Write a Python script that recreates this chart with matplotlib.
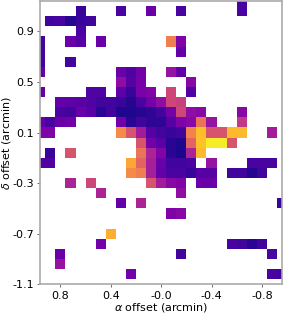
import numpy as np
import matplotlib
matplotlib.use("Agg")
import matplotlib.pyplot as plt

# Binned offsets (arcmin) and normalised intensity per occupied cell
alpha_off = [
    # delta = 1.14
    -0.64,
    # delta = 1.06
    0.64, 0.32, 0.08, -0.16, -0.64,
    # delta = 0.98
    0.88, 0.80, 0.72, 0.64, 0.56,
    # delta = 0.90
    0.64,
    # delta = 0.82
    0.96, 0.72, 0.64, 0.48, -0.08, -0.16,
    # delta = 0.74
    0.96, -0.16,
    # delta = 0.66
    0.96, 0.72,
    # delta = 0.58
    0.96, 0.32, 0.24, 0.16, -0.08, -0.16,
    # delta = 0.50
    0.32, 0.24, 0.16, -0.24,
    # delta = 0.42
    0.96, 0.56, 0.48, 0.32, 0.24, 0.16, 0.08, -0.08, -0.24,
    # delta = 0.34
    0.80, 0.72, 0.64, 0.56, 0.48, 0.40, 0.32, 0.24, 0.16, 0.08, 0.00, -0.08, -0.16,
    # delta = 0.26
    0.80, 0.72, 0.64, 0.56, 0.48, 0.40, 0.32, 0.24, 0.16, 0.08, 0.00, -0.08, -0.16, -0.24, -0.32, -0.64,
    # delta = 0.18
    0.96, 0.88, 0.80, 0.72, 0.32, 0.24, 0.16, 0.08, 0.00, -0.08, -0.16, -0.24, -0.32, -0.40, -0.64,
    # delta = 0.10
    0.96, 0.88, 0.32, 0.24, 0.16, 0.08, 0.00, -0.08, -0.16, -0.24, -0.32, -0.40, -0.48, -0.56, -0.64, -0.88,
    # delta = 0.02
    0.16, 0.08, 0.00, -0.08, -0.16, -0.24, -0.32, -0.40, -0.48, -0.56,
    # delta = -0.06
    0.88, 0.72, 0.16, 0.08, 0.00, -0.08, -0.16, -0.24, -0.32,
    # delta = -0.14
    0.96, 0.88, 0.24, 0.16, 0.08, 0.00, -0.08, -0.16, -0.24, -0.40, -0.72, -0.80, -0.88,
    # delta = -0.22
    0.24, 0.16, 0.08, 0.00, -0.08, -0.16, -0.24, -0.32, -0.40, -0.56, -0.64, -0.72, -0.80,
    # delta = -0.30
    0.72, 0.56, 0.08, 0.00, -0.08, -0.16, -0.32, -0.40,
    # delta = -0.38
    0.48, -0.16,
    # delta = -0.46
    0.32, 0.16, -0.96,
    # delta = -0.54
    -0.08, -0.16,
    # delta = -0.70
    0.40,
    # delta = -0.78
    0.48, -0.56, -0.64, -0.72, -0.80,
    # delta = -0.86
    0.80, -0.16, -0.88,
    # delta = -0.94
    0.80,
    # delta = -1.02
    0.24, -0.88, -0.96,
]

delta_off = (
    [1.14] * 1 + [1.06] * 5 + [0.98] * 5 + [0.90] * 1 + [0.82] * 6 + [0.74] * 2
    + [0.66] * 2 + [0.58] * 6 + [0.50] * 4 + [0.42] * 9 + [0.34] * 13
    + [0.26] * 16 + [0.18] * 15 + [0.10] * 16 + [0.02] * 10 + [-0.06] * 9
    + [-0.14] * 13 + [-0.22] * 13 + [-0.30] * 8 + [-0.38] * 2 + [-0.46] * 3
    + [-0.54] * 2 + [-0.70] * 1 + [-0.78] * 5 + [-0.86] * 3 + [-0.94] * 1
    + [-1.02] * 3
)

intensity = [
    0.12,
    0.08, 0.12, 0.20, 0.12, 0.12,
    0.10, 0.12, 0.04, 0.08, 0.10,
    0.12,
    0.10, 0.20, 0.15, 0.20, 0.68, 0.25,
    0.10, 0.18,
    0.10, 0.10,
    0.18, 0.20, 0.14, 0.22, 0.32, 0.18,
    0.30, 0.15, 0.23, 0.28,
    0.18, 0.14, 0.14, 0.17, 0.08, 0.24, 0.26, 0.50, 0.14,
    0.18, 0.17, 0.16, 0.14, 0.10, 0.10, 0.08, 0.04, 0.12, 0.22, 0.30, 0.50, 0.48,
    0.12, 0.10, 0.20, 0.16, 0.05, 0.10, 0.03, 0.03, 0.04, 0.06, 0.10, 0.22, 0.50, 0.30, 0.28, 0.28,
    0.18, 0.12, 0.20, 0.22, 0.22, 0.05, 0.10, 0.06, 0.06, 0.15, 0.25, 0.28, 0.65, 0.32, 0.45,
    0.25, 0.25, 0.72, 0.55, 0.35, 0.15, 0.10, 0.08, 0.10, 0.70, 0.86, 0.55, 0.55, 0.85, 0.85, 0.35,
    0.55, 0.22, 0.16, 0.05, 0.03, 0.60, 0.87, 0.97, 0.97, 0.55,
    0.08, 0.55, 0.65, 0.38, 0.26, 0.05, 0.02, 0.38, 0.85,
    0.14, 0.14, 0.80, 0.60, 0.36, 0.20, 0.10, 0.10, 0.12, 0.32, 0.12, 0.12, 0.12,
    0.72, 0.68, 0.36, 0.18, 0.12, 0.12, 0.08, 0.15, 0.15, 0.10, 0.10, 0.04, 0.10,
    0.38, 0.50, 0.55, 0.35, 0.28, 0.26, 0.20, 0.20,
    0.38, 0.30,
    0.18, 0.38, 0.08,
    0.25, 0.28,
    0.82,
    0.22, 0.12, 0.10, 0.05, 0.10,
    0.20, 0.10, 0.12,
    0.32,
    0.22, 0.12, 0.10,
]

x_ticks = [0.8, 0.4, 0.0, -0.4, -0.8]
x_tick_labels = ["0.8", "0.4", "-0.0", "-0.4", "-0.8"]
y_ticks = [-1.1, -0.7, -0.3, 0.1, 0.5, 0.9]
y_tick_labels = ["-1.1", "-0.7", "-0.3", "0.1", "0.5", "0.9"]

# ---- build grid from the binned values ----
step = 0.08
x_centers = np.round(np.arange(-0.96, 0.96 + step / 2, step), 2)
y_centers = np.round(np.arange(-1.10, 1.14 + step / 2, step), 2)
Z = np.full((len(y_centers), len(x_centers)), np.nan)
for a, d, v in zip(alpha_off, delta_off, intensity):
    ix = int(np.argmin(np.abs(x_centers - a)))
    iy = int(np.argmin(np.abs(y_centers - d)))
    Z[iy, ix] = v
Zm = np.ma.masked_invalid(Z)
x_edges = np.concatenate([x_centers - step / 2, [x_centers[-1] + step / 2]])
y_edges = np.concatenate([y_centers - step / 2, [y_centers[-1] + step / 2]])

fig = plt.figure(figsize=(2.84, 3.13), dpi=100)
ax = fig.add_axes([40.3 / 284, (313 - 284.3) / 313, 241.7 / 284, 283.3 / 313])
ax.pcolormesh(x_edges, y_edges, Zm, cmap="plasma", vmin=0, vmax=1,
              shading="flat", antialiased=True, linewidth=0)
ax.set_xlim(x_centers[-1], x_centers[0])
ax.set_ylim(y_centers[0], y_centers[-1])

ax.set_xticks(x_ticks)
ax.set_xticklabels(x_tick_labels)
ax.set_yticks(y_ticks)
ax.set_yticklabels(y_tick_labels)
ax.tick_params(labelsize=8, length=2.5, width=0.6, color="#555555", pad=2)
for s in ax.spines.values():
    s.set_color("#aaaaaa")
    s.set_linewidth(1.2)
ax.set_xlabel(r"$\alpha$ offset (arcmin)", fontsize=8, labelpad=0.3)
ax.set_ylabel(r"$\delta$ offset (arcmin)", fontsize=8, labelpad=-0.8)

fig.savefig("out.png", dpi=100)
